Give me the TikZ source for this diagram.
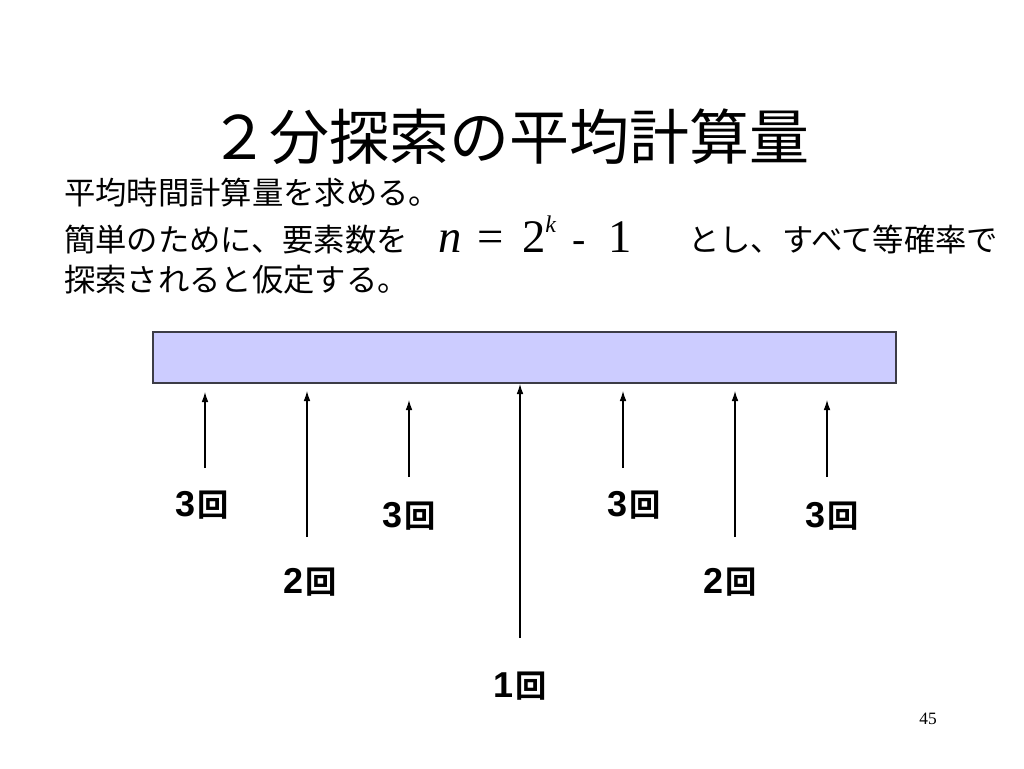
\documentclass[tikz,border=0pt]{standalone}
\usepackage{fontspec}
\setmainfont{Liberation Serif}
\newfontfamily\jp{Noto Sans CJK JP}
\newfontfamily\jpbold{Noto Sans CJK JP Bold}
\newfontfamily\digb{Liberation Sans}
\newcommand{\cntlabel}[1]{{\digb\bfseries\fontsize{27}{30}\selectfont #1}\kern1pt{\jpbold\fontsize{23.5}{26}\selectfont 回}}
\usetikzlibrary{arrows.meta}
\begin{document}
\begin{tikzpicture}[x=0.75pt,y=-0.75pt,
  txt/.style={inner sep=0pt,anchor=west,font=\jp\fontsize{23.5}{26}\selectfont},
  mth/.style={inner sep=0pt,anchor=base,font=\fontsize{35}{38}\selectfont},
  cnt/.style={inner sep=0pt},
  ar/.style={line width=0.8pt,-{Latex[length=7.5pt,width=5pt]}},
  arr/.style={fill={rgb,255:red,204;green,204;blue,255},draw={rgb,255:red,60;green,60;blue,70},line width=0.8pt}]
\useasboundingbox (0,0) rectangle (1024,768);
% title
\node[inner sep=0pt,font=\jp\fontsize{45}{50}\selectfont] (title) at (509,137) {２分探索の平均計算量};
% text
\node[txt] (l1) at (64,193) {平均時間計算量を求める。};
\node[txt] (l2) at (64,240) {簡単のために、要素数を};
\node[mth] (mn) at (450,252) {\itshape n};
\node[mth] (meq) at (491,252) {=};
\node[mth] (m2) at (539,252) {2\raisebox{0.42em}{\fontsize{18}{20}\selectfont\itshape k}};
\node[mth,font=\fontsize{30}{33}\selectfont] (mminus) at (579,252) {-};
\node[mth] (m1) at (620,252) {1};
\node[txt] (l2b) at (688,240) {とし、すべて等確率で};
\node[txt] (l3) at (64,280) {探索されると仮定する。};
% array
\node[arr,minimum width=743*0.75pt,minimum height=51*0.75pt,inner sep=0pt] (box) at (524.5,357.5) {};
% labels
\node[cnt] (c1) at (202,505) {\cntlabel{3}};
\node[cnt] (c2) at (409,516) {\cntlabel{3}};
\node[cnt] (c3) at (634,505) {\cntlabel{3}};
\node[cnt] (c4) at (832,516) {\cntlabel{3}};
\node[cnt] (d1) at (310,582) {\cntlabel{2}};
\node[cnt] (d2) at (730,582) {\cntlabel{2}};
\node[cnt] (e1) at (520,686) {\cntlabel{1}};
% arrow ends
\coordinate (s1) at (205,468); \coordinate (t1) at (205,392);
\coordinate (s2) at (307,537); \coordinate (t2) at (307,391);
\coordinate (s3) at (409,477); \coordinate (t3) at (409,400);
\coordinate (s4) at (520,638); \coordinate (t4) at (520,384);
\coordinate (s5) at (623,468); \coordinate (t5) at (623,391);
\coordinate (s6) at (735,537); \coordinate (t6) at (735,391);
\coordinate (s7) at (827,477); \coordinate (t7) at (827,400);
\foreach \i in {1,...,7} \draw[ar] (s\i) -- (t\i);
% page number
\node[inner sep=0pt,font=\fontsize{13}{15}\selectfont] (pg) at (928,719) {45};
\end{tikzpicture}
\end{document}
